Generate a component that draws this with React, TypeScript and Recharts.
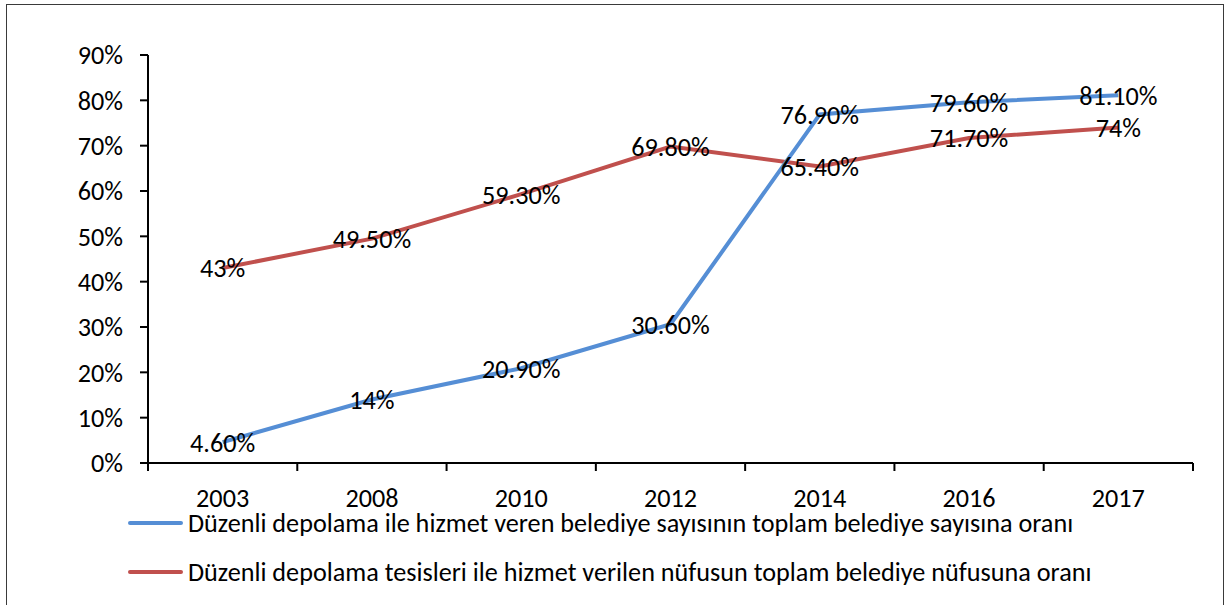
import React from "react";
import { LineChart, Line, XAxis, YAxis } from "recharts";

const years = ["2003", "2008", "2010", "2012", "2014", "2016", "2017"];
const blueValues = [4.6, 14, 20.9, 30.6, 76.9, 79.6, 81.1];
const blueLabels = ["4.60%", "14%", "20.90%", "30.60%", "76.90%", "79.60%", "81.10%"];
const redValues = [43, 49.5, 59.3, 69.8, 65.4, 71.7, 74];
const redLabels = ["43%", "49.50%", "59.30%", "69.80%", "65.40%", "71.70%", "74%"];
const yTicks = [0, 10, 20, 30, 40, 50, 60, 70, 80, 90];
const seriesNames = [
  "Düzenli depolama ile hizmet veren belediye sayısının toplam belediye sayısına oranı",
  "Düzenli depolama tesisleri ile hizmet verilen nüfusun toplam belediye nüfusuna oranı",
];
const seriesColors = ["#558ED5", "#C0504D"];

const data = years.map((y, i) => ({
  year: y,
  idx: i + 0.5,
  blue: blueValues[i],
  red: redValues[i],
}));

// category boundaries and centers on the numeric helper axis
const gridTicks: number[] = [];
for (let i = 0; i <= years.length; i++) {
  gridTicks.push(i);
  if (i < years.length) gridTicks.push(i + 0.5);
}

const FONT = "Calibri, Carlito, 'Open Sans', sans-serif";
const FS = 26.2;

const CHART_W = 1216;
const CHART_H = 600;
const MARGIN = { top: 50, right: 30, bottom: 82, left: 81 };
const Y_W = 60;
const X_H = 60;
const PLOT_W = CHART_W - MARGIN.left - Y_W - MARGIN.right;
const HALF_BAND = PLOT_W / years.length / 2;

const makeLabel = (labels: string[]) => (props: any) => {
  const { x, y, index } = props;
  return (
    <text
      x={x}
      y={y}
      dy="0.36em"
      textAnchor="middle"
      fontFamily={FONT}
      fontSize={FS}
      fill="#000"
    >
      {labels[index]}
    </text>
  );
};

const GridTick = (props: any) => {
  const { x, y, payload } = props;
  const v = payload.value as number;
  if (Number.isInteger(v)) {
    return <line x1={x} x2={x} y1={y} y2={y + 8} stroke="#000" strokeWidth={2} />;
  }
  return (
    <text
      x={x}
      y={y + 25}
      dy="0.71em"
      textAnchor="middle"
      fontFamily={FONT}
      fontSize={FS}
      fill="#000"
    >
      {years[Math.floor(v)]}
    </text>
  );
};

export default function App() {
  return (
    <div
      style={{
        position: "absolute",
        left: 6,
        top: 4,
        width: 1218,
        height: 610,
        boxSizing: "border-box",
        border: "1px solid #3a3a3a",
        background: "#fff",
        fontFamily: FONT,
      }}
    >
      <LineChart width={CHART_W} height={CHART_H} data={data} margin={MARGIN}>
        <XAxis
          xAxisId="grid"
          dataKey="idx"
          type="number"
          height={X_H}
          domain={[0, years.length]}
          ticks={gridTicks}
          allowDataOverflow
          interval={0}
          axisLine={{ stroke: "#000", strokeWidth: 2 }}
          tickLine={false}
          tickSize={0}
          tickMargin={0}
          tick={<GridTick />}
        />
        <XAxis
          dataKey="year"
          type="category"
          hide
          height={0}
          padding={{ left: HALF_BAND, right: HALF_BAND }}
        />
        <YAxis
          width={Y_W}
          domain={[0, 90]}
          ticks={yTicks}
          interval={0}
          axisLine={{ stroke: "#000", strokeWidth: 2 }}
          tickLine={{ stroke: "#000", strokeWidth: 2 }}
          tickSize={8}
          tickMargin={17}
          tickFormatter={(v: number) => `${v}%`}
          tick={{ fontFamily: FONT, fontSize: FS, fill: "#000" }}
        />
        <Line
          dataKey="red"
          name={seriesNames[1]}
          stroke={seriesColors[1]}
          strokeWidth={4}
          dot={false}
          isAnimationActive={false}
          label={makeLabel(redLabels)}
        />
        <Line
          dataKey="blue"
          name={seriesNames[0]}
          stroke={seriesColors[0]}
          strokeWidth={4}
          dot={false}
          isAnimationActive={false}
          label={makeLabel(blueLabels)}
        />
      </LineChart>
      {seriesNames.map((name, i) => (
        <div
          key={name}
          style={{
            position: "absolute",
            left: 121,
            top: 518 + i * 49 - 12,
            height: 24,
            lineHeight: "24px",
            display: "flex",
            alignItems: "center",
            whiteSpace: "nowrap",
            fontSize: FS,
            color: "#000",
          }}
        >
          <span
            style={{
              display: "inline-block",
              width: 55,
              height: 4,
              borderRadius: 2,
              background: seriesColors[i],
              marginRight: 5,
            }}
          />
          <span style={{ lineHeight: "24px" }}>{name}</span>
        </div>
      ))}
    </div>
  );
}
